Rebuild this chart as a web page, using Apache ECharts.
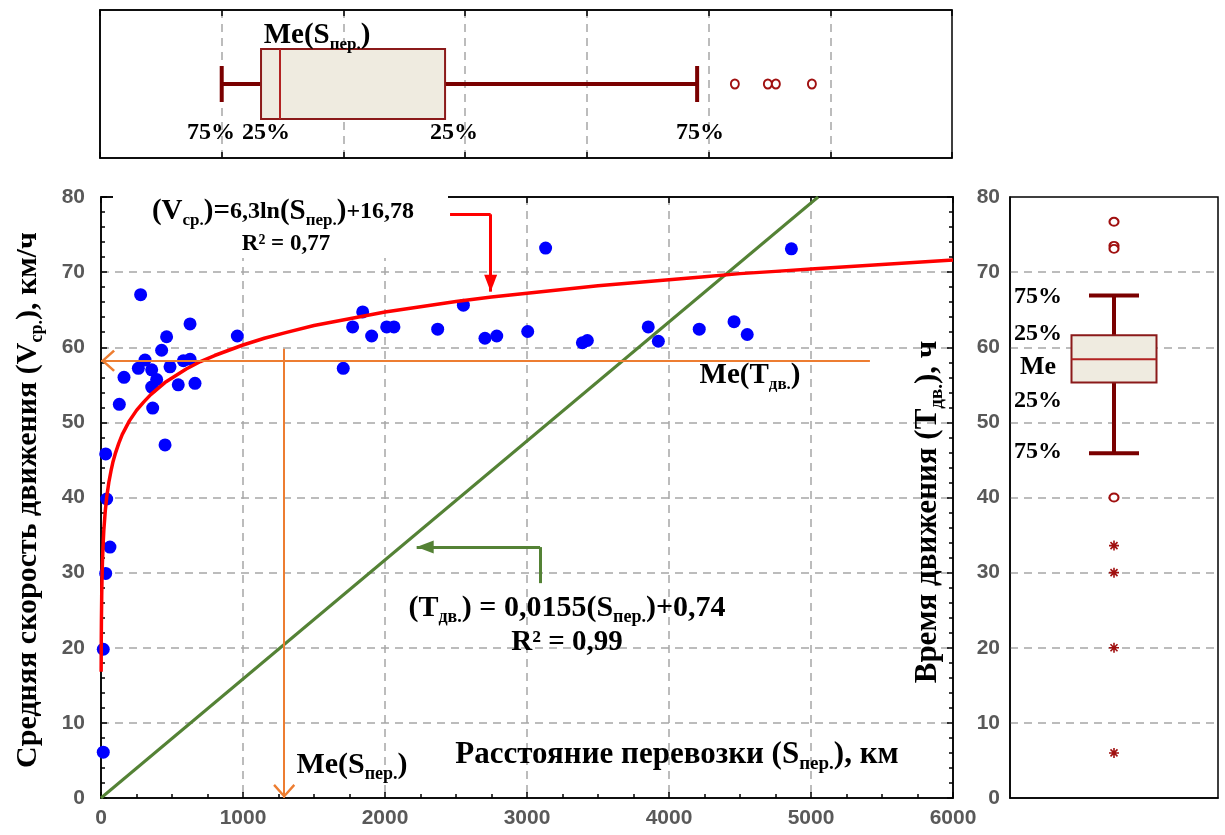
<!DOCTYPE html>
<html><head><meta charset="utf-8">
<script src="https://cdn.jsdelivr.net/npm/echarts@6/dist/echarts.min.js"></script>
<style>html,body{margin:0;padding:0;background:#fff}#c{width:1225px;height:835px}</style>
</head><body><div id="c"></div>
<script>
// ---- data ----
const distanceKm = [16, 16, 33, 63, 40, 33, 451, 129, 364, 162, 392, 357, 544, 662, 263, 357, 486, 310, 580, 627, 427, 462, 960, 627, 279,
  1706, 1772, 1843, 1906, 2012, 2063, 2371, 2552, 2704, 2787, 3005, 3131, 3390, 3425, 3854, 3925, 4213, 4458, 4551, 4862];
const speedKmh = [6.1, 19.8, 29.9, 33.4, 39.8, 45.8, 47.0, 52.4, 51.9, 56.0, 55.7, 54.7, 55.0, 55.2, 57.2, 57.0, 57.4, 58.3, 58.2, 58.4, 59.6, 61.4, 61.5, 63.1, 67.0,
  57.2, 62.7, 64.7, 61.5, 62.7, 62.7, 62.4, 65.6, 61.2, 61.5, 62.1, 73.2, 60.6, 60.9, 62.7, 60.8, 62.4, 63.4, 61.7, 73.1];

// logarithmic trend curve
const trendS = [1, 2, 3, 5, 7, 10, 15, 20, 30, 40, 55, 70, 85, 100, 125, 150, 175, 200, 250, 300, 350, 400, 450, 500, 600, 700, 800, 900,
  1000, 1150, 1300, 1500, 1750, 2000, 2250, 2500, 2750, 3000, 3250, 3500, 3750, 4000, 4250, 4500, 4750, 5000, 5250, 5500, 5750, 6000];
const trendV = [16.8, 21.1, 23.7, 26.9, 29.0, 31.3, 33.8, 35.7, 38.2, 40.0, 42.0, 43.5, 44.8, 45.8, 47.2, 48.4, 49.3, 50.2, 51.6, 52.7, 53.7, 54.5, 55.3, 55.9, 57.1, 58.1, 58.9, 59.6,
  60.3, 61.2, 61.95, 62.9, 63.8, 64.7, 65.4, 66.1, 66.7, 67.2, 67.7, 68.2, 68.6, 69.0, 69.4, 69.8, 70.1, 70.4, 70.7, 71.0, 71.3, 71.6];

// linear trend (green line)
const timeLineS = [0, 5050];
const timeLineT = [0, 80];

// top box plot (distance), values: min, Q1, median, Q3, max
const distBox = [0, 323, 479, 1835, 3906];
const distOutliers = [4216, 4487, 4553, 4849];

// right box plot, values: min, Q1, median, Q3, max
const timeBox = [45.9, 55.3, 58.4, 61.6, 66.9];
const timeOutliers = [76.7, 73.5, 73.1, 40.0];
const timeExtremes = [33.6, 30.0, 20.0, 6.0];

// annotation paths (data coordinates)
const redArrowPath = [[2458, 77.7], [2744, 77.7], [2744, 67.4]];
const greenArrowPath = [[3092, 28.6], [3092, 33.4], [2223, 33.4]];
const medianSpeedLine = [[5415, 58.2], [0, 58.2]];
const medianDistLine = [[1290, 59.8], [1290, 0]];

const xTicks = [0, 1000, 2000, 3000, 4000, 5000, 6000];
const yTicks = [0, 10, 20, 30, 40, 50, 60, 70, 80];

// ---- styles ----
const SERIF = 'Liberation Serif';
const SANS = 'Liberation Sans';
const DR = '#7a0000';
const BLUE = '#0000FF';
const ORANGE = '#ED7D31';
const GREEN = '#548235';
const GRIDLINE = {type: [8, 6], color: '#a6a6a6', width: 1.5};
const TICKLABEL = {color: '#595959', fontSize: 21, fontFamily: SANS, fontWeight: 'bold', formatter: v => String(v)};

function rich(F, M) {
  return {
    a: {fontFamily: SERIF, fontWeight: 'bold', fontSize: F, lineHeight: Math.round(F * 1.2), fill: '#000'},
    m: {fontFamily: SERIF, fontWeight: 'bold', fontSize: M || F, lineHeight: Math.round(F * 1.2), fill: '#000'},
    s: {fontFamily: SERIF, fontWeight: 'bold', fontSize: Math.round(F * 0.6), lineHeight: Math.round(F * 0.55), verticalAlign: 'bottom', fill: '#000'}
  };
}
function txt(x, y, text, F, M, extra) {
  return Object.assign({
    type: 'text', x: x, y: y, z: 100,
    style: {text: text, rich: rich(F, M), align: 'center', verticalAlign: 'middle'}
  }, extra || {});
}

const chart = echarts.init(document.getElementById('c'), null, {renderer: 'canvas'});

const scatterData = distanceKm.map((d, i) => [d, speedKmh[i]]);
const trendData = trendS.map((s, i) => [s, trendV[i]]);
const timeLineData = timeLineS.map((s, i) => [s, timeLineT[i]]);

function seg(a, b, arrow, size) {
  const end = {coord: b, symbol: arrow || 'none'};
  if (arrow) { end.symbolSize = size; end.symbolOffset = [0, size[1] / 2]; }
  return [{coord: a, symbol: 'none'}, end];
}
const CHEVRON = 'path://M0,11 L10,0 L20,11 L18.4,12.6 L10,3.2 L1.6,12.6 Z';

function styled(pair, color, width) {
  pair[0].lineStyle = {color: color, width: width, type: 'solid'};
  pair[0].itemStyle = {color: color};
  pair[1].itemStyle = {color: color};
  return pair;
}

const annotationLines = [
  styled(seg(redArrowPath[0], redArrowPath[1]), '#FF0000', 3),
  styled(seg(redArrowPath[1], redArrowPath[2], 'triangle', [13, 17]), '#FF0000', 3),
  styled(seg(greenArrowPath[0], greenArrowPath[1]), GREEN, 3),
  styled(seg(greenArrowPath[1], greenArrowPath[2], 'triangle', [13, 17]), GREEN, 3),
  styled(seg(medianSpeedLine[0], medianSpeedLine[1], CHEVRON, [22, 14]), ORANGE, 2),
  styled(seg(medianDistLine[0], medianDistLine[1], CHEVRON, [22, 14]), ORANGE, 2)
];

function boxRender(horizontal, boxW, capW, whiskerW) {
  return function (params, api) {
    const c = api.value(0);
    const pt = v => horizontal ? api.coord([v, c]) : api.coord([c, v]);
    const p = [1, 2, 3, 4, 5].map(k => pt(api.value(k)));
    const items = [];
    const L = (x1, y1, x2, y2, w, col) => items.push({type: 'line', shape: {x1, y1, x2, y2}, style: {stroke: col || DR, lineWidth: w}});
    if (horizontal) {
      const cy = p[0][1];
      L(p[0][0], cy, p[1][0], cy, whiskerW);
      L(p[3][0], cy, p[4][0], cy, whiskerW);
      L(p[0][0], cy - capW / 2, p[0][0], cy + capW / 2, whiskerW);
      L(p[4][0], cy - capW / 2, p[4][0], cy + capW / 2, whiskerW);
      items.push({type: 'rect', shape: {x: p[1][0], y: cy - boxW / 2, width: p[3][0] - p[1][0], height: boxW}, style: {fill: '#EFEBE0', stroke: '#8b1a1a', lineWidth: 2}});
      L(p[2][0], cy - boxW / 2, p[2][0], cy + boxW / 2, 2, '#b22222');
    } else {
      const cx = p[0][0];
      L(cx, p[0][1], cx, p[1][1], whiskerW);
      L(cx, p[3][1], cx, p[4][1], whiskerW);
      L(cx - capW / 2, p[0][1], cx + capW / 2, p[0][1], whiskerW);
      L(cx - capW / 2, p[4][1], cx + capW / 2, p[4][1], whiskerW);
      items.push({type: 'rect', shape: {x: cx - boxW / 2, y: p[3][1], width: boxW, height: p[1][1] - p[3][1]}, style: {fill: '#EFEBE0', stroke: '#8b1a1a', lineWidth: 2}});
      L(cx - boxW / 2, p[2][1], cx + boxW / 2, p[2][1], 2, '#b22222');
    }
    return {type: 'group', children: items};
  };
}

const ASTERISK = 'path://M5,0 L5,10 M0,5 L10,5 M1.5,1.5 L8.5,8.5 M8.5,1.5 L1.5,8.5';
const FRAME = {show: true, onZero: false, lineStyle: {color: '#000', width: 1.5}};
const INTICK = {show: true, inside: true, length: 6, lineStyle: {color: '#000', width: 1.5}};

const option = {
  animation: false,
  backgroundColor: '#fff',
  grid: [
    {left: 101, top: 197, width: 852, height: 601, show: true, borderColor: '#000', borderWidth: 1.5},
    {left: 100, top: 10, width: 852, height: 148, show: true, borderColor: '#000', borderWidth: 1.5},
    {left: 1010, top: 197, width: 208, height: 601, show: true, borderColor: '#000', borderWidth: 1.5}
  ],
  xAxis: [
    {gridIndex: 0, type: 'value', min: xTicks[0], max: xTicks[xTicks.length - 1], interval: 1000,
      axisLine: FRAME, axisTick: INTICK,
      minorTick: {show: true, splitNumber: 4, length: 4, lineStyle: {color: '#000', width: 1.5}},
      axisLabel: Object.assign({margin: 10}, TICKLABEL),
      splitLine: {show: true, showMinLine: false, showMaxLine: false, lineStyle: GRIDLINE}},
    {gridIndex: 0, type: 'value', position: 'top', min: 0, max: 6000, interval: 1000,
      axisLine: FRAME, axisTick: INTICK, axisLabel: {show: false}, splitLine: {show: false}},
    {gridIndex: 1, type: 'value', min: -1000, max: 6000, interval: 1000,
      axisLine: FRAME, axisTick: INTICK, axisLabel: {show: false},
      splitLine: {show: true, showMinLine: false, showMaxLine: false, lineStyle: GRIDLINE}},
    {gridIndex: 1, type: 'value', position: 'top', min: -1000, max: 6000, interval: 1000,
      axisLine: FRAME, axisTick: INTICK, axisLabel: {show: false}, splitLine: {show: false}},
    {gridIndex: 2, type: 'category', data: ['T'], axisLine: FRAME,
      axisTick: {show: false}, axisLabel: {show: false}, splitLine: {show: false}}
  ],
  yAxis: [
    {gridIndex: 0, type: 'value', min: yTicks[0], max: yTicks[yTicks.length - 1], interval: 10,
      axisLine: FRAME, axisTick: INTICK,
      minorTick: {show: true, splitNumber: 5, length: 4, lineStyle: {color: '#000', width: 1.5}},
      axisLabel: Object.assign({margin: 16}, TICKLABEL),
      splitLine: {show: true, showMinLine: false, showMaxLine: false, lineStyle: GRIDLINE}},
    {gridIndex: 0, type: 'value', position: 'right', min: 0, max: 80, interval: 10,
      axisLine: FRAME, axisTick: INTICK,
      minorTick: {show: true, splitNumber: 5, length: 4, lineStyle: {color: '#000', width: 1.5}},
      axisLabel: {show: false}, splitLine: {show: false}},
    {gridIndex: 1, type: 'category', data: ['S'], axisLine: FRAME,
      axisTick: {show: false}, axisLabel: {show: false}, splitLine: {show: false}},
    {gridIndex: 2, type: 'value', min: 0, max: 80, interval: 10,
      axisLine: FRAME, axisTick: {show: false},
      axisLabel: Object.assign({margin: 10}, TICKLABEL),
      splitLine: {show: true, showMinLine: false, showMaxLine: false, lineStyle: GRIDLINE}}
  ],
  series: [
    {type: 'line', name: 'time', xAxisIndex: 0, yAxisIndex: 0, data: timeLineData, symbol: 'none', z: 2,
      lineStyle: {color: GREEN, width: 3}},
    {type: 'scatter', name: 'speed', xAxisIndex: 0, yAxisIndex: 0, data: scatterData, symbol: 'circle', symbolSize: 13, z: 3,
      itemStyle: {color: BLUE, opacity: 1}},
    {type: 'line', name: 'trend', xAxisIndex: 0, yAxisIndex: 0, data: trendData, symbol: 'none', z: 4,
      smooth: false, lineStyle: {color: '#FF0000', width: 3.5, join: 'round'}},
    {type: 'line', name: 'notes', xAxisIndex: 0, yAxisIndex: 0, data: [], z: 5,
      markLine: {silent: true, animation: false, label: {show: false}, emphasis: {disabled: true}, symbol: 'none', data: annotationLines}},
    {type: 'custom', name: 'distBox', xAxisIndex: 2, yAxisIndex: 2, data: [[0].concat(distBox)],
      encode: {x: [1, 2, 3, 4, 5], y: 0}, renderItem: boxRender(true, 70, 36, 4), z: 3},
    {type: 'scatter', name: 'distOut', xAxisIndex: 2, yAxisIndex: 2, data: distOutliers.map(v => [v, 0]),
      symbol: 'circle', symbolSize: [8, 9], itemStyle: {color: '#fff', borderColor: '#a01010', borderWidth: 2, opacity: 1}, z: 4},
    {type: 'custom', name: 'timeBox', xAxisIndex: 4, yAxisIndex: 3, data: [[0].concat(timeBox)],
      encode: {x: 0, y: [1, 2, 3, 4, 5]}, renderItem: boxRender(false, 85, 50, 4), z: 3},
    {type: 'scatter', name: 'timeOut', xAxisIndex: 4, yAxisIndex: 3, data: timeOutliers.map(v => [0, v]),
      symbol: 'circle', symbolSize: [9, 8], itemStyle: {color: '#fff', borderColor: '#a01010', borderWidth: 2, opacity: 1}, z: 4},
    {type: 'scatter', name: 'timeExt', xAxisIndex: 4, yAxisIndex: 3, data: timeExtremes.map(v => [0, v]),
      symbol: ASTERISK, symbolSize: 10, itemStyle: {color: 'transparent', borderColor: '#a01010', borderWidth: 1.6, opacity: 1}, z: 4}
  ],
  graphic: [
    {type: 'rect', z: 90, shape: {x: 113, y: 184, width: 335, height: 74}, style: {fill: '#fff'}},
    txt(283, 212, '{a|(V}{s|ср.}{a|)=}{m|6,3ln}{a|(S}{s|пер.}{a|)}{m|+16,78}', 29, 24),
    txt(286, 244, '{a|R² = 0,77}', 23),
    txt(567, 608, '{a|(T}{s|дв.}{a|) = 0,0155(S}{s|пер.}{a|)+0,74}', 30),
    txt(567, 643, '{a|R² = 0,99}', 29),
    txt(750, 376, '{a|Me(T}{s|дв.}{a|)}', 29),
    txt(352, 765, '{a|Me(S}{s|пер.}{a|)}', 30),
    txt(677, 755, '{a|Расстояние перевозки (S}{s|пер.}{a|), км}', 31),
    txt(28, 500, '{a|Средняя скорость движения (V}{s|ср.}{a|), км/ч}', 30, null, {rotation: Math.PI / 2}),
    txt(928, 512, '{a|Время движения (T}{s|дв.}{a|), ч}', 31, null, {rotation: Math.PI / 2}),
    txt(317, 36, '{a|Me(S}{s|пер.}{a|)}', 29),
    txt(211, 133, '{a|75%}', 24),
    txt(266, 133, '{a|25%}', 24),
    txt(454, 133, '{a|25%}', 24),
    txt(700, 133, '{a|75%}', 24),
    txt(1038, 297, '{a|75%}', 24),
    txt(1038, 334, '{a|25%}', 24),
    txt(1038, 367, '{a|Me}', 26),
    txt(1038, 401, '{a|25%}', 24),
    txt(1038, 452, '{a|75%}', 24)
  ]
};
chart.setOption(option);
</script>
</body></html>
